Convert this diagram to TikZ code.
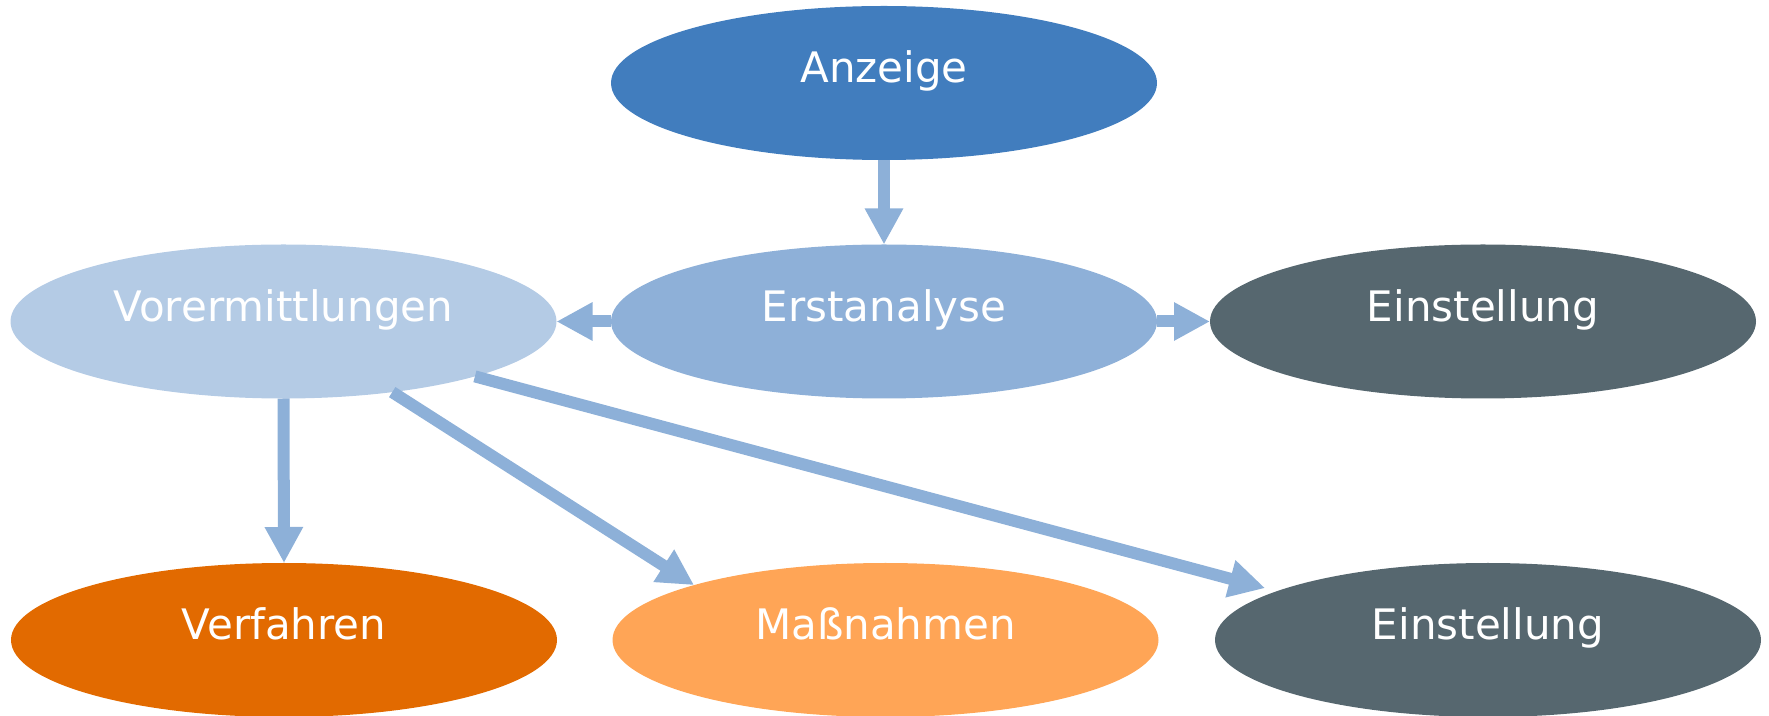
\documentclass[tikz,border=0pt]{standalone}
\usepackage{fontspec}
\setmainfont{DejaVu Sans}
\usetikzlibrary{shapes.geometric,arrows.meta}
\definecolor{anzc}{HTML}{417DBE}
\definecolor{ersc}{HTML}{8EB0D8}
\definecolor{vorc}{HTML}{B4CBE5}
\definecolor{einc}{HTML}{56676F}
\definecolor{verc}{HTML}{E26A00}
\definecolor{masc}{HTML}{FFA556}
\definecolor{arrc}{HTML}{8DB0D8}
\begin{document}
\begin{tikzpicture}[x=0.5pt,y=-0.5pt,
  ell/.style={ellipse, inner sep=0pt, outer sep=0pt, minimum width=273pt, minimum height=77pt,
    text=white, font=\fontsize{21}{25}\selectfont, text height=0pt, text depth=0pt},
  conn/.style={draw=arrc, line width=6pt, -{Triangle[length=18pt,width=18pt]}}]
\useasboundingbox (0,0) rectangle (1769,716);
\node[ell, fill=anzc] (anz) at (884,83) {Anzeige};
\node[ell, fill=vorc] (vor) at (283.5,321.5) {Vorermittlungen};
\node[ell, fill=ersc] (ers) at (884,321.5) {Erstanalyse};
\node[ell, fill=einc] (ein1) at (1483,321.5) {Einstellung};
\node[ell, fill=verc] (verf) at (284,640) {Verfahren};
\node[ell, fill=masc] (mass) at (885.5,640) {Maßnahmen};
\node[ell, fill=einc] (ein2) at (1488,640) {Einstellung};
\draw[conn] (anz) -- (ers);
\draw[conn] (ers) -- (vor);
\draw[conn] (ers) -- (ein1);
\draw[conn] (vor.south) -- (verf.north);
\draw[conn] (vor.-33.6) -- (mass.164.4);
\draw[conn, shorten >=6pt] (vor.-16.6) -- (ein2.167);
\end{tikzpicture}
\end{document}
